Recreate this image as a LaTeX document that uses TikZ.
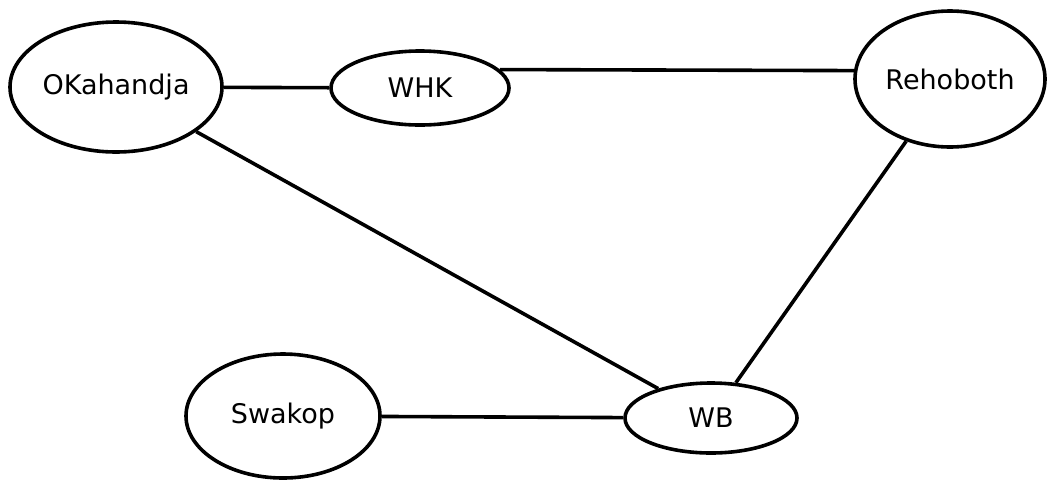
\documentclass[tikz,border=0pt]{standalone}
\usepackage{fontspec}
\setmainfont{DejaVu Sans}
\usetikzlibrary{shapes.geometric}
\begin{document}
\begin{tikzpicture}[x=1pt,y=-1pt,
  town/.style={draw, ellipse, line width=3.6pt, inner sep=0pt, font=\fontsize{27}{31}\selectfont},
  link/.style={line width=3.6pt}]
\useasboundingbox (0,0) rectangle (1054,483);
\node[town, minimum width=212pt, minimum height=130pt] (ok) at (116,87) {OKahandja};
\node[town, minimum width=178pt, minimum height=74pt] (whk) at (420,88) {WHK};
\node[town, minimum width=190pt, minimum height=136pt] (reh) at (950,79) {Rehoboth};
\node[town, minimum width=194pt, minimum height=124pt] (sw) at (283,416) {Swakop};
\node[town, minimum width=172pt, minimum height=70pt] (wb) at (711,418) {WB};
\draw[link] (ok) -- (whk);
\draw[link] (whk.13) -- (reh.175);
\draw[link] (ok) -- (wb);
\draw[link] (reh) -- (wb);
\draw[link] (sw) -- (wb);
\end{tikzpicture}
\end{document}
